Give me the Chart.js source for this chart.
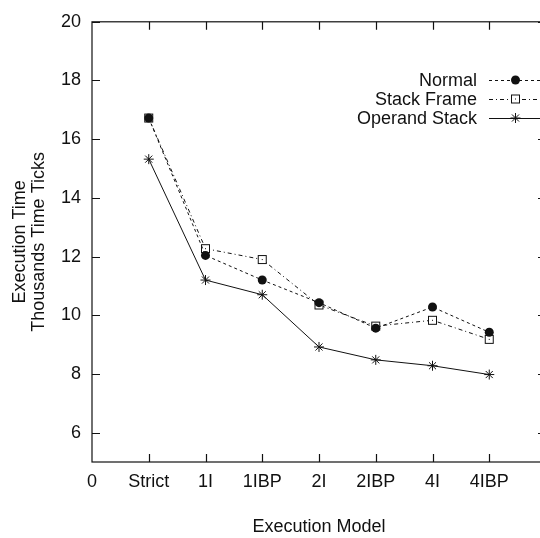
<!DOCTYPE html>
<html lang="en">
<head>
  <meta charset="UTF-8" />
  <title>Execution Time by Model</title>
  <style>
    html, body {
      margin: 0;
      padding: 0;
      background: #ffffff;
      overflow: hidden;
    }
    canvas {
      display: block;
    }
  </style>
</head>
<body>
  <canvas id="chart" width="560" height="538"></canvas>

  <script src="https://cdn.jsdelivr.net/npm/chart.js"></script>
  <script>
    // categories along the x axis ("0" sits at the origin)
    const models = ['Strict', '1I', '1IBP', '2I', '2IBP', '4I', '4IBP'];
    const xTickLabels = ['0', ...models];
    const yTicks = [6, 8, 10, 12, 14, 16, 18, 20];

    // thousands of time ticks
    const normal = [16.72, 12.04, 11.20, 10.43, 9.56, 10.28, 9.42];
    const stackFrame = [16.72, 12.27, 11.90, 10.35, 9.63, 9.83, 9.18];
    const operandStack = [15.32, 11.20, 10.70, 8.92, 8.48, 8.28, 7.98];

    const INK = '#111111';
    Chart.defaults.font.family = '"Liberation Sans", Arial, sans-serif';
    Chart.defaults.font.size = 18;
    Chart.defaults.color = INK;

    // open square with a dot in the middle (gnuplot style)
    const squareDot = document.createElement('canvas');
    squareDot.width = 11;
    squareDot.height = 11;
    (() => {
      const c = squareDot.getContext('2d');
      c.fillStyle = '#fff';
      c.fillRect(1, 1, 9, 9);
      c.strokeStyle = INK;
      c.lineWidth = 1;
      c.strokeRect(1.5, 1.5, 8, 8);
      c.fillStyle = INK;
      c.fillRect(5, 5, 1, 1);
    })();

    const toPoints = arr => arr.map((v, i) => ({ x: i + 1, y: v }));

    const datasets = [
      {
        label: 'Normal',
        data: toPoints(normal),
        borderColor: INK,
        borderWidth: 1,
        borderDash: [3, 3],
        pointStyle: 'circle',
        pointRadius: 4.5,
        pointBackgroundColor: INK,
        pointBorderColor: INK,
        pointBorderWidth: 0
      },
      {
        label: 'Stack Frame',
        data: toPoints(stackFrame),
        borderColor: INK,
        borderWidth: 1,
        borderDash: [4, 3, 1, 3],
        pointStyle: squareDot,
        pointRadius: 5
      },
      {
        label: 'Operand Stack',
        data: toPoints(operandStack),
        borderColor: INK,
        borderWidth: 1,
        pointStyle: 'star',
        pointRadius: 5,
        pointBorderColor: INK,
        pointBorderWidth: 1
      }
    ];

    const TICK = 8;

    const framePlugin = {
      id: 'frame',
      beforeDatasetsDraw(chart) {
        const { ctx, chartArea: a, scales: { x, y } } = chart;
        ctx.save();
        ctx.strokeStyle = INK;
        ctx.lineWidth = 1.2;
        ctx.strokeRect(a.left, a.top, a.right - a.left, a.bottom - a.top);
        ctx.beginPath();
        models.forEach((m, i) => {
          const px = Math.round(x.getPixelForValue(i + 1)) + 0.5;
          ctx.moveTo(px, a.bottom); ctx.lineTo(px, a.bottom - TICK);
          ctx.moveTo(px, a.top); ctx.lineTo(px, a.top + TICK);
        });
        yTicks.forEach(v => {
          const py = Math.round(y.getPixelForValue(v)) + 0.5;
          ctx.moveTo(a.left, py); ctx.lineTo(a.left + TICK, py);
          ctx.moveTo(a.right, py); ctx.lineTo(a.right - TICK, py);
        });
        ctx.stroke();
        ctx.restore();
      },
      afterDraw(chart) {
        const { ctx, chartArea: a } = chart;
        ctx.save();
        ctx.fillStyle = INK;
        ctx.font = '18px "Liberation Sans", Arial, sans-serif';

        // axis titles
        ctx.textAlign = 'center';
        ctx.textBaseline = 'middle';
        ctx.fillText('Execution Model', (a.left + a.right) / 2, 527);
        ctx.save();
        ctx.translate(0, (a.top + a.bottom) / 2);
        ctx.rotate(-Math.PI / 2);
        ctx.fillText('Execution Time', 0, 20);
        ctx.fillText('Thousands Time Ticks', 0, 39);
        ctx.restore();

        // key, top right inside the plot
        const rows = [80, 99, 118];
        ctx.textAlign = 'right';
        chart.data.datasets.forEach((ds, i) => {
          const ry = rows[i];
          ctx.fillStyle = INK;
          ctx.fillText(ds.label, 477, ry + 1);
          ctx.strokeStyle = INK;
          ctx.lineWidth = 1;
          ctx.setLineDash(ds.borderDash || []);
          ctx.beginPath();
          ctx.moveTo(489, ry + 0.5);
          ctx.lineTo(543, ry + 0.5);
          ctx.stroke();
          ctx.setLineDash([]);
          ctx.fillStyle = ds.pointBackgroundColor || INK;
          Chart.helpers.drawPoint(ctx, {
            pointStyle: ds.pointStyle,
            radius: ds.pointRadius,
            rotation: 0,
            borderWidth: ds.pointBorderWidth === undefined ? 1 : ds.pointBorderWidth
          }, 515.5, ry);
        });
        ctx.restore();
      }
    };

    new Chart(document.getElementById('chart').getContext('2d'), {
      type: 'line',
      data: { datasets },
      options: {
        responsive: false,
        maintainAspectRatio: false,
        animation: false,
        layout: { padding: { top: 21, right: 14, left: 0, bottom: 0 } },
        plugins: {
          legend: { display: false },
          tooltip: { enabled: false }
        },
        scales: {
          x: {
            type: 'linear',
            min: 0,
            max: 8,
            grid: { display: false, drawTicks: false },
            border: { display: false },
            afterBuildTicks: s => { s.ticks = xTickLabels.map((_, i) => ({ value: i })); },
            afterFit: s => { s.height = 76; },
            ticks: {
              padding: 9,
              maxRotation: 0,
              autoSkip: false,
              callback: v => xTickLabels[v] ?? ''
            }
          },
          y: {
            min: 5,
            max: 20,
            grid: { display: false, drawTicks: false },
            border: { display: false },
            afterBuildTicks: s => { s.ticks = yTicks.map(v => ({ value: v })); },
            afterFit: s => { s.width = 92; },
            ticks: { padding: 11 }
          }
        }
      },
      plugins: [framePlugin]
    });
  </script>
</body>
</html>
